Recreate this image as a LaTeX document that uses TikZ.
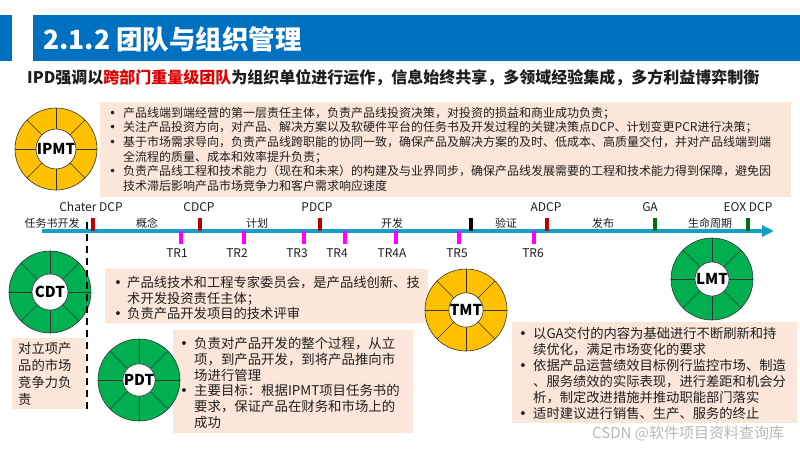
\documentclass[tikz,border=0pt]{standalone}
\usepackage{fontspec}
\setmainfont{Noto Sans CJK SC}
\newfontfamily\bulfont{DejaVu Sans}
\usetikzlibrary{arrows.meta,calc}
\pgfdeclarelayer{bg}
\pgfsetlayers{bg,main}
\definecolor{titleblue}{RGB}{0,112,192}
\definecolor{peach}{RGB}{251,231,217}
\definecolor{gold}{RGB}{255,192,0}
\definecolor{teamgreen}{RGB}{0,176,80}
\definecolor{tlcyan}{RGB}{20,158,200}
\definecolor{dashcyan}{RGB}{70,180,215}
\definecolor{dcpred}{RGB}{192,0,0}
\definecolor{gagreen}{RGB}{0,110,20}
\definecolor{trmag}{RGB}{255,0,255}
\definecolor{subred}{RGB}{220,0,0}
\definecolor{txtc}{RGB}{30,30,30}
\newcommand{\bulA}[1]{\makebox[#1][l]{\bulfont •}}
\newcommand{\teamring}[6]{%
  \node[ring, fill=#4] (#1) at (#2,#3) {};
  \foreach \ang in {0,45,...,315}{\draw[black!80, line width=0.6pt] ($(#1.center)+(\ang:#6pt)$) -- (#1.\ang);}
  \node[core, minimum size={#6*2pt}] (#1c) at (#1.center) {#5};
}
\begin{document}
\begin{tikzpicture}[x=1pt,y=-1pt,
  peachbox/.style={fill=peach,draw=none,inner sep=0pt,outer sep=0pt,anchor=north west},
  boxtext/.style={anchor=north west,inner sep=0pt,align=left,text=txtc},
  ring/.style={circle,draw=black!80,line width=0.6pt,minimum size=82pt,inner sep=0pt,outer sep=0pt},
  core/.style={circle,fill=white,draw=black!80,line width=0.6pt,inner sep=0pt,font=\fontsize{15}{15}\selectfont\bfseries},
  dcpmark/.style={rectangle,minimum width=4pt,minimum height=13pt,inner sep=0pt,outer sep=0pt,draw=none},
  trmark/.style={rectangle,fill=trmag,minimum width=3.5pt,minimum height=13pt,inner sep=0pt,outer sep=0pt},
  tllabel/.style={font=\fontsize{12}{12}\selectfont,inner sep=0pt,text=txtc},
  phase/.style={font=\fontsize{11}{11}\selectfont,inner sep=0pt,text=txtc},
  cdash/.style={draw=dashcyan,dash pattern=on 3pt off 2pt,line width=0.8pt},
  bdash/.style={draw=black,line width=1.6pt,dash pattern=on 7pt off 5pt}]
\useasboundingbox (0,0) rectangle (800,450);
\fill[white] (0,0) rectangle (800,450);

% title
\fill[titleblue] (0,15) rectangle (12,61);
\fill[titleblue] (33,15) rectangle (800,61);
\node[anchor=west,text=white,font=\fontsize{26.5}{26.5}\selectfont\bfseries,inner sep=0pt] (title) at (43,39) {2.1.2 团队与组织管理};
\node[anchor=west,font=\fontsize{16}{16}\selectfont\bfseries,inner sep=0pt,text=txtc] (sub) at (27,78) {IPD强调以\textcolor{subred}{跨部门重量级团队}为组织单位进行运作，信息始终共享，多领域经验集成，多方利益博弈制衡};

% boxes
\node[peachbox,minimum width=691pt,minimum height=95pt] (ipmtbox) at (100,102) {};
\node[boxtext,font=\fontsize{12}{14.6}\selectfont] (ipmttext) at (109,107) {%
\bulA{14pt}产品线端到端经营的第一层责任主体，负责产品线投资决策，对投资的损益和商业成功负责；\\
\bulA{14pt}关注产品投资方向，对产品、解决方案以及软硬件平台的任务书及开发过程的关键决策点DCP、计划变更PCR进行决策；\\
\bulA{14pt}基于市场需求导向，负责产品线跨职能的协同一致，确保产品及解决方案的及时、低成本、高质量交付，并对产品线端到端\\
\hspace*{14pt}全流程的质量、成本和效率提升负责；\\
\bulA{14pt}负责产品线工程和技术能力（现在和未来）的构建及与业界同步，确保产品线发展需要的工程和技术能力得到保障，避免因\\
\hspace*{14pt}技术滞后影响产品市场竞争力和客户需求响应速度};

\node[peachbox,minimum width=323pt,minimum height=54pt] (cdtbox) at (105,269) {};
\node[boxtext,font=\fontsize{13.3}{15.6}\selectfont] (cdttext) at (114,276) {%
\bulA{13pt}产品线技术和工程专家委员会，是产品线创新、技\\
\hspace*{13pt}术开发投资责任主体；\\
\bulA{13pt}负责产品开发项目的技术评审};

\node[peachbox,minimum width=73pt,minimum height=71pt] (leftbox) at (12,338) {};
\node[boxtext,font=\fontsize{13.3}{17}\selectfont] (lefttext) at (18,342) {对立项产\\品的市场\\竞争力负\\责};

\node[peachbox,minimum width=240pt,minimum height=103pt] (pdtbox) at (173,330) {};
\node[boxtext,font=\fontsize{13.4}{15.8}\selectfont] (pdttext) at (180,337) {%
\bulA{14pt}负责对产品开发的整个过程，从立\\
\hspace*{14pt}项，到产品开发，到将产品推向市\\
\hspace*{14pt}场进行管理\\
\bulA{14pt}主要目标：根据IPMT项目任务书的\\
\hspace*{14pt}要求，保证产品在财务和市场上的\\
\hspace*{14pt}成功};

\node[peachbox,minimum width=285pt,minimum height=101pt] (lmtbox) at (512,322) {};
\node[boxtext,font=\fontsize{13.3}{16}\selectfont] (lmttext) at (519,327) {%
\bulA{14pt}以GA交付的内容为基础进行不断刷新和持\\
\hspace*{14pt}续优化，满足市场变化的要求\\
\bulA{14pt}依据产品运营绩效目标例行监控市场、制造\\
\hspace*{14pt}、服务绩效的实际表现，进行差距和机会分\\
\hspace*{14pt}析，制定改进措施并推动职能部门落实\\
\bulA{14pt}适时建议进行销售、生产、服务的终止};

% rings
\teamring{ipmt}{56}{149}{gold}{IPMT}{19}
\teamring{cdt}{50}{292}{teamgreen}{CDT}{18}
\teamring{pdt}{139}{380}{teamgreen}{PDT}{16}
\teamring{tmt}{466}{310}{gold}{TMT}{17}
\teamring{lmt}{712}{279}{teamgreen}{LMT}{17}

% timeline
\coordinate (tlstart) at (42,231);
\coordinate (tlend) at (774,231);
\draw[tlcyan,line width=3.5pt,-{Triangle[length=12pt,width=11pt]}] (tlstart) -- (tlend);
\node[dcpmark,fill=dcpred] (chdcp) at (93,224.5) {};
\node[dcpmark,fill=dcpred] (cdcp) at (200,224.5) {};
\node[dcpmark,fill=dcpred] (pdcp) at (320,224.5) {};
\node[dcpmark,fill=black] (blk) at (471,224.5) {};
\node[dcpmark,fill=dcpred] (adcp) at (547,224.5) {};
\node[dcpmark,fill=gagreen] (ga) at (655,224.5) {};
\node[dcpmark,fill=gagreen] (eox) at (748,224.5) {};
\node[trmark] (tr1) at (181,237.5) {};
\node[trmark] (tr2) at (244,237.5) {};
\node[trmark] (tr3) at (304,237.5) {};
\node[trmark] (tr4) at (345,237.5) {};
\node[trmark] (tr4a) at (396,237.5) {};
\node[trmark] (tr5) at (459,237.5) {};
\node[trmark] (tr6) at (534,237.5) {};

\node[tllabel] (lchdcp) at (91,207) {Chater DCP};
\node[tllabel] (lcdcp) at (199,207) {CDCP};
\node[tllabel] (lpdcp) at (317,207) {PDCP};
\node[tllabel] (ladcp) at (546,207) {ADCP};
\node[tllabel] (lga) at (650,207) {GA};
\node[tllabel] (leox) at (748,207) {EOX DCP};
\node[phase] (ph0) at (52,223) {任务书开发};
\node[phase] (ph1) at (147,223) {概念};
\node[phase] (ph2) at (257,223) {计划};
\node[phase] (ph3) at (392,223) {开发};
\node[phase] (ph4) at (506,223) {验证};
\node[phase] (ph5) at (603,223) {发布};
\node[phase] (ph6) at (710,223) {生命周期};
\node[tllabel] (ltr1) at (177,253) {TR1};
\node[tllabel] (ltr2) at (237,253) {TR2};
\node[tllabel] (ltr3) at (297,253) {TR3};
\node[tllabel] (ltr4) at (337,253) {TR4};
\node[tllabel] (ltr4a) at (392,253) {TR4A};
\node[tllabel] (ltr5) at (457,253) {TR5};
\node[tllabel] (ltr6) at (533,253) {TR6};

% black dashed separators
\coordinate (vtop) at (87,222);
\coordinate (vbot) at (87,412);
\draw[bdash] (vtop) -- (vbot);

% watermark
\node[anchor=west,text=black!28,font=\fontsize{15}{15}\selectfont,inner sep=0pt] (wm) at (592,433) {CSDN @软件项目资料查询库};

\begin{pgfonlayer}{bg}
\coordinate (diagend) at (415,403);
\draw[bdash] (ga.south) -- (diagend);
\draw[cdash,{Stealth[length=4pt,width=4pt]}-] (ipmt.south) .. controls +(10,8) and +(-20,-22) .. (chdcp.north);
\draw[cdash] (ipmt.south) .. controls +(40,12) and +(-50,-26) .. (cdcp.north);
\draw[cdash] (ipmt.south) .. controls +(70,12) and +(-80,-26) .. (pdcp.north);
\draw[cdash] (ipmt.south) .. controls +(120,12) and +(-120,-28) .. (adcp.north);
\draw[cdash] (tr1.south) .. controls +(30,-12) and +(-80,-30) .. (tmt.north);
\draw[cdash] (tr4a.south) .. controls +(20,8) and +(-30,-12) .. (tmt.north);
\draw[cdash,-{Stealth[length=4pt,width=4pt]}] (tr6.south) .. controls +(-2,-10) and +(12,1) .. (515,232) -- (495,232) .. controls (480,232) and (468,245) .. (tmt.north);
\end{pgfonlayer}
\end{tikzpicture}
\end{document}
